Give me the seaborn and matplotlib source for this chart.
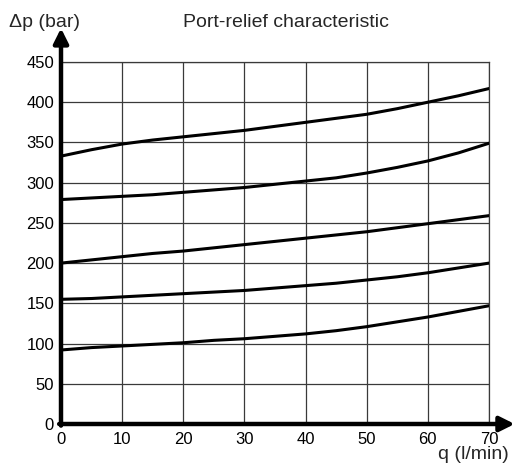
import matplotlib
matplotlib.use("Agg")
import matplotlib.pyplot as plt
import pandas as pd
import seaborn as sns

# flow (l/min) and pressure drop (bar)
q = [0, 5, 10, 15, 20, 25, 30, 35, 40, 45, 50, 55, 60, 65, 70]
dp_setting_5 = [333, 341, 348, 353, 357, 361, 365, 370, 375, 380, 385, 392, 400, 408, 417]
dp_setting_4 = [279, 281, 283, 285, 288, 291, 294, 298, 302, 306, 312, 319, 327, 337, 349]
dp_setting_3 = [200, 204, 208, 212, 215, 219, 223, 227, 231, 235, 239, 244, 249, 254, 259]
dp_setting_2 = [155, 156, 158, 160, 162, 164, 166, 169, 172, 175, 179, 183, 188, 194, 200]
dp_setting_1 = [92, 95, 97, 99, 101, 104, 106, 109, 112, 116, 121, 127, 133, 140, 147]

x_ticks = [0, 10, 20, 30, 40, 50, 60, 70]
y_ticks = [0, 50, 100, 150, 200, 250, 300, 350, 400, 450]

curves = {
    "1": dp_setting_1,
    "2": dp_setting_2,
    "3": dp_setting_3,
    "4": dp_setting_4,
    "5": dp_setting_5,
}
df = pd.concat(
    [pd.DataFrame({"q": q, "dp": v, "curve": k}) for k, v in curves.items()],
    ignore_index=True,
)

sns.set_theme(style="whitegrid")
plt.rcParams["font.family"] = ["Liberation Sans", "DejaVu Sans"]

fig = plt.figure(figsize=(5.15, 4.66), dpi=100)
ax = fig.add_axes([61 / 515, 42 / 466, 428 / 515, 362 / 466])

sns.lineplot(data=df, x="q", y="dp", hue="curve", units="curve", estimator=None,
             palette=["black"] * 5, linewidth=2.2, legend=False, ax=ax, zorder=3)

ax.set_xlim(0, 70)
ax.set_ylim(0, 450)
ax.set_xticks(x_ticks)
ax.set_yticks(y_ticks)
ax.tick_params(axis="both", length=0, labelsize=12, colors="black")
ax.tick_params(axis="x", pad=6)
ax.tick_params(axis="y", pad=5)
ax.set_xlabel("")
ax.set_ylabel("")
ax.grid(True, color="#3a3a3a", linewidth=0.9)

for side in ["top", "right"]:
    ax.spines[side].set_color("#3a3a3a")
    ax.spines[side].set_linewidth(0.9)
for side in ["left", "bottom"]:
    ax.spines[side].set_visible(False)

# thick axes with arrowheads
arrow = dict(arrowstyle="-|>", lw=3.2, color="black", mutation_scale=22,
             shrinkA=0, shrinkB=0)
ax.annotate("", xy=(0, 492), xytext=(0, -2), arrowprops=arrow,
            annotation_clip=False, zorder=5)
ax.annotate("", xy=(74.2, 0), xytext=(-0.3, 0), arrowprops=arrow,
            annotation_clip=False, zorder=5)

fig.text(9 / 515, 1 - 27 / 466, "\u0394p (bar)", fontsize=14, va="baseline", ha="left")
fig.text(286 / 515, 1 - 27 / 466, "Port-relief characteristic", fontsize=14,
         va="baseline", ha="center")
fig.text(509 / 515, 1 - 459 / 466, "q (l/min)", fontsize=14, va="baseline", ha="right")

fig.savefig("out.png", dpi=100, facecolor="white")
